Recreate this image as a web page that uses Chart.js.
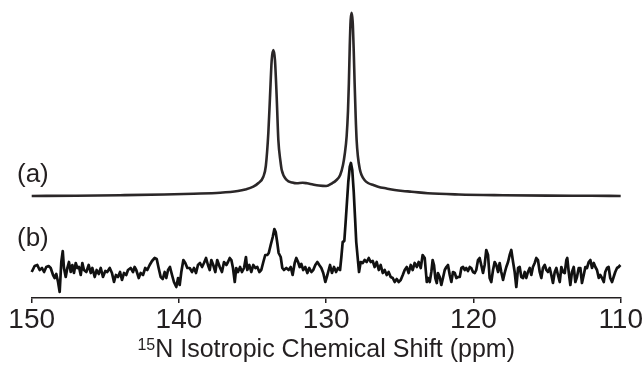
<!DOCTYPE html>
<html>
<head>
<meta charset="utf-8">
<script src="https://cdn.jsdelivr.net/npm/chart.js@4.4.1/dist/chart.umd.min.js"></script>
<style>
    html, body { margin: 0; padding: 0; background: #fff; }
</style>
</head>
<body>
<canvas id="nmrChart" width="642" height="368"></canvas>
<script>
// tick labels and text
const ppmTicks = [150, 140, 130, 120, 110];
const traceLabels = ['(a)', '(b)'];
const titleMass = '15';
const titleText = 'N Isotropic Chemical Shift (ppm)';

// trace (a): smooth spectrum, intensity above its own baseline
const aPpm = [150, 147, 144, 141, 139, 137.2, 136, 135.5, 134.95, 134.6, 134.27, 134.1, 133.93, 133.82, 133.7, 133.59,
    133.48, 133.36, 133.25, 133.1, 133.02, 132.68, 132.3, 132.0, 131.6, 131.3, 130.9, 130.5, 130.0, 129.6, 129.3,
    129.05, 128.86, 128.74, 128.61, 128.52, 128.46, 128.4, 128.34, 128.27, 128.2, 128.13, 128.07, 128.0, 127.93,
    127.85, 127.72, 127.6, 127.4, 127.16, 126.8, 126.48, 125.9, 125.35, 124.8, 124.2, 123.1, 121, 118, 115, 112, 110];
const aVal = [0, 0.3, 0.8, 1.5, 2.3, 3.3, 5, 6.5, 9.3, 13, 19.3, 30, 63, 98, 136, 146,
    136, 98, 56, 34, 26, 16, 13.5, 12.7, 13.3, 12.7, 11.5, 10.5, 10, 12.7, 16,
    21, 31, 42, 60, 85, 113, 150, 176, 183.3, 174, 145, 113, 80, 55,
    40, 27, 21, 16, 13, 11, 9.3, 7.5, 6, 5, 4.3, 2.7, 1.5, 0.8, 0.4, 0.2, 0];

// trace (b): noisy spectrum, intensity above its own baseline
const bPpm = [150.00, 149.80, 149.62, 149.46, 149.30, 149.16, 149.01, 148.85, 148.71, 148.55, 148.44, 148.33, 148.21,
    148.10, 147.99, 147.89, 147.81, 147.69, 147.58, 147.47, 147.35, 147.24, 147.13, 147.01, 146.90, 146.79, 146.67,
    146.56, 146.45, 146.29, 146.13, 145.99, 145.88, 145.72, 145.59, 145.45, 145.31, 145.16, 145.00, 144.87, 144.70,
    144.55, 144.41, 144.28, 144.14, 144.00, 143.87, 143.73, 143.58, 143.46, 143.28, 143.12, 143.01, 142.90, 142.73,
    142.60, 142.44, 142.29, 142.15, 141.99, 141.83, 141.65, 141.51, 141.38, 141.24, 141.10, 140.97, 140.86, 140.74,
    140.61, 140.47, 140.34, 140.18, 140.06, 139.95, 139.84, 139.70, 139.57, 139.43, 139.27, 139.11, 138.98, 138.84,
    138.71, 138.57, 138.43, 138.30, 138.16, 138.03, 137.91, 137.80, 137.67, 137.53, 137.40, 137.23, 137.08, 136.94,
    136.78, 136.67, 136.55, 136.44, 136.33, 136.21, 136.11, 135.99, 135.85, 135.72, 135.58, 135.45, 135.36, 135.22,
    135.09, 134.95, 134.81, 134.68, 134.54, 134.41, 134.27, 134.14, 134.00, 133.90, 133.77, 133.63, 133.52, 133.43,
    133.32, 133.23, 133.09, 132.98, 132.87, 132.71, 132.55, 132.41, 132.28, 132.14, 132.03, 131.91, 131.80, 131.69,
    131.56, 131.42, 131.28, 131.15, 131.01, 130.88, 130.74, 130.60, 130.47, 130.33, 130.20, 130.06, 129.92, 129.74,
    129.61, 129.47, 129.33, 129.20, 129.06, 128.97, 128.88, 128.77, 128.68, 128.59, 128.50, 128.40, 128.32, 128.23,
    128.13, 128.04, 127.96, 127.86, 127.77, 127.66, 127.52, 127.39, 127.25, 127.11, 126.98, 126.84, 126.71, 126.57,
    126.43, 126.30, 126.16, 126.03, 125.89, 125.76, 125.62, 125.48, 125.35, 125.21, 125.08, 124.94, 124.80, 124.67,
    124.53, 124.40, 124.26, 124.13, 123.99, 123.85, 123.72, 123.58, 123.45, 123.31, 123.17, 123.09, 122.97, 122.86,
    122.77, 122.68, 122.59, 122.49, 122.41, 122.29, 122.18, 122.07, 121.95, 121.84, 121.73, 121.61, 121.50, 121.39,
    121.27, 121.16, 121.05, 120.93, 120.82, 120.71, 120.59, 120.49, 120.37, 120.25, 120.15, 120.03, 119.91, 119.81,
    119.69, 119.58, 119.47, 119.35, 119.24, 119.13, 119.01, 118.90, 118.79, 118.67, 118.56, 118.45, 118.33, 118.22,
    118.11, 117.99, 117.88, 117.77, 117.65, 117.54, 117.43, 117.31, 117.20, 117.09, 116.97, 116.86, 116.75, 116.63,
    116.52, 116.41, 116.30, 116.18, 116.07, 115.96, 115.84, 115.73, 115.62, 115.50, 115.39, 115.28, 115.16, 115.05,
    114.94, 114.82, 114.71, 114.60, 114.48, 114.37, 114.26, 114.14, 114.03, 113.92, 113.80, 113.69, 113.63, 113.53,
    113.42, 113.31, 113.19, 113.08, 112.97, 112.85, 112.74, 112.63, 112.51, 112.40, 112.29, 112.17, 112.06, 111.95,
    111.83, 111.72, 111.61, 111.49, 111.39, 111.27, 111.15, 111.05, 110.93, 110.82, 110.71, 110.59, 110.48, 110.37,
    110.25, 110.14, 110.02];
const bVal = [-2, 4, 5, 0, 2, -2, 3, 4, 2, -5, -8, -4, -12,
    -22, 8, 19, 2, -7, 2, 8, -2, 5, -3, 7, 2, 3, -5,
    7, 0, -2, 5, -3, 2, -7, 0, -4, 2, -7, -1, -2, 2,
    -3, -12, -5, -7, -2, -10, -3, -5, 0, 2, -2, 3, 0, -8,
    -3, -5, 2, 0, 5, 9, 12, 11, 2, -7, -9, -2, -8, 0,
    3, -5, -12, -17, -8, -15, -2, 10, 7, 2, 2, -2, 2, -3,
    5, 7, 3, 7, 12, 5, 0, 10, 5, -2, 10, 3, -2, 8,
    5, 8, 12, 10, 2, -12, 2, -2, 3, -2, 2, 13, 0, 5,
    -2, 5, 2, 3, -2, 0, 8, 15, 15, 17, 25, 33, 41, 38,
    27, 17, 13, 2, 0, 2, 0, 3, -5, 7, 12, 8, 3, 6,
    0, 3, -3, 2, -2, 0, 5, 8, 5, 2, -3, -12, -5, 5,
    -3, 3, -2, 2, 0, 13, 28, 29, 48, 68, 88, 103, 107, 100,
    78, 52, 28, 12, -2, 8, 7, 10, 8, 12, 8, 9, 3, 8,
    0, 5, -3, 0, -5, -2, -7, -8, -12, -9, -12, -10, -5, 0,
    3, -3, 5, 0, 7, 3, 8, 2, 15, 12, -12, -8, -12, -2,
    10, 5, -8, -13, -3, -7, -15, -8, 0, 3, 5, -5, -12, -2,
    -3, -8, -7, -7, 2, 3, 0, 2, -1, 3, 2, -2, -3, 0,
    10, 12, 5, -3, 5, 20, 15, -8, -12, 0, 8, 5, -2, 7,
    -2, -10, -3, 3, 8, 15, 20, 8, -2, -17, 2, 3, -7, -8,
    -2, -8, -2, 2, -5, 3, 7, 12, 10, -2, -8, 2, 5, 0,
    -2, 2, -5, -13, -2, 2, -5, -12, 3, -2, -3, 10, 12, -2,
    -15, -2, 3, -12, -7, 2, 2, -13, -5, 3, 2, 8, 10, 2,
    7, 3, 0, -8, -5, -8, -12, -2, 2, 3, -8, -12, -7, -2,
    2, 3, 5];

// vertical stacking of the two traces (y units)
const OFFSET_A = 102;
const OFFSET_B = 28;
const FONT = '"Liberation Sans", Arial, Helvetica, sans-serif';
const INK = '#231f20';

const toPoints = (xs, ys, off) => xs.map((x, i) => ({ x, y: ys[i] + off }));

const nmrText = {
    id: 'nmrText',
    afterDraw(chart) {
        const { ctx, chartArea, scales: { y } } = chart;
        ctx.save();
        ctx.fillStyle = INK;
        ctx.textBaseline = 'middle';
        ctx.textAlign = 'left';
        ctx.font = `26px ${FONT}`;
        ctx.fillText(traceLabels[0], 17, y.getPixelForValue(OFFSET_A + 21));
        ctx.fillText(traceLabels[1], 17, y.getPixelForValue(OFFSET_B + 31));

        // axis title with superscript mass number
        ctx.textBaseline = 'alphabetic';
        const bigFont = `25px ${FONT}`, smallFont = `16px ${FONT}`;
        ctx.font = smallFont;
        const wSmall = ctx.measureText(titleMass).width;
        ctx.font = bigFont;
        const wBig = ctx.measureText(titleText).width;
        const cx = (chartArea.left + chartArea.right) / 2;
        const x0 = cx - (wSmall + wBig) / 2;
        const base = 357;
        ctx.font = smallFont;
        ctx.fillText(titleMass, x0, base - 7);
        ctx.font = bigFont;
        ctx.fillText(titleText, x0 + wSmall, base);
        ctx.restore();
    },
};

new Chart(document.getElementById('nmrChart'), {
    type: 'line',
    data: {
        datasets: [
            {
                label: traceLabels[0],
                data: toPoints(aPpm, aVal, OFFSET_A),
                borderColor: '#2b2728',
                borderWidth: 2.6,
                pointRadius: 0,
                cubicInterpolationMode: 'monotone',
                clip: false,
            },
            {
                label: traceLabels[1],
                data: toPoints(bPpm, bVal, OFFSET_B),
                borderColor: '#111',
                borderWidth: 2.7,
                pointRadius: 0,
                tension: 0,
                borderJoinStyle: 'round',
                clip: false,
            },
        ],
    },
    options: {
        responsive: false,
        animation: false,
        devicePixelRatio: 1,
        layout: { padding: { left: 31.7, right: 21.3, top: 0, bottom: 0 } },
        plugins: { legend: { display: false }, tooltip: { enabled: false } },
        scales: {
            x: {
                type: 'linear',
                reverse: true,
                min: 110,
                max: 150,
                afterBuildTicks: (s) => { s.ticks = ppmTicks.map((v) => ({ value: v })); },
                afterFit: (s) => { s.height = 70; s.paddingLeft = 0; s.paddingRight = 0; },
                grid: { drawOnChartArea: false, drawTicks: true, tickLength: 5, color: INK, lineWidth: 1.5 },
                border: { display: true, color: INK, width: 1.5 },
                ticks: { color: INK, font: { size: 28, family: FONT }, padding: 0, maxRotation: 0, autoSkip: false },
            },
            y: { display: false, min: 0, max: 298 },
        },
    },
    plugins: [nmrText],
});
</script>
</body>
</html>
